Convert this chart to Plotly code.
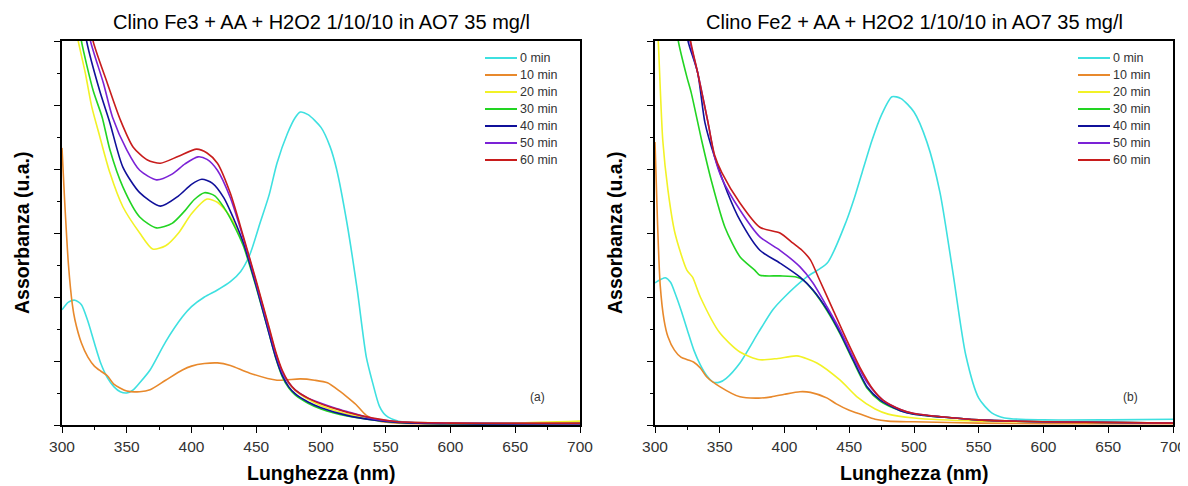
import plotly.graph_objects as go

# ---------------- data: panel (a) Clino Fe3 ----------------
a0_x = [300,305,310,315,320,325,330,335,340,345,350,355,360,368,380,393,400,410,420,430,438,445,453,460,466,474,480,484,490,500,507,512,520,528,535,540,545,550,560,580,620,660,700]
a0_y = [1.80,1.92,1.95,1.88,1.62,1.28,0.96,0.74,0.60,0.52,0.50,0.55,0.66,0.86,1.30,1.69,1.85,2.00,2.11,2.24,2.40,2.66,3.16,3.60,4.09,4.55,4.80,4.89,4.85,4.65,4.35,4.00,3.16,2.11,1.06,0.65,0.30,0.15,0.06,0.03,0.03,0.03,0.04]

a10_x = [300,302,305,308,310,315,320,325,330,335,340,350,360,368,380,393,400,410,420,430,445,466,484,495,505,515,520,527,535,545,560,600,650,700]
a10_y = [4.33,3.52,2.50,1.88,1.64,1.28,1.06,0.92,0.84,0.77,0.64,0.53,0.52,0.55,0.70,0.86,0.92,0.96,0.97,0.93,0.81,0.70,0.72,0.70,0.66,0.52,0.44,0.32,0.15,0.06,0.03,0.02,0.02,0.02]

a20_x = [310,312,318,323,329,337,347,360,370,380,390,400,412,420,430,440,450,460,465,470,475,480,490,500,510,520,540,560,600,650,700]
a20_y = [6.30,6.05,5.50,4.97,4.52,3.94,3.41,3.00,2.75,2.80,3.00,3.30,3.53,3.48,3.25,2.84,2.22,1.50,1.12,0.84,0.65,0.54,0.40,0.30,0.23,0.17,0.09,0.05,0.03,0.03,0.06]

a30_x = [313,315,324,331,337,347,360,373,385,395,402,410,418,425,432,440,450,460,465,470,475,480,490,500,520,540,560,600,700]
a30_y = [6.30,6.00,5.23,4.81,4.30,3.72,3.25,3.08,3.15,3.35,3.52,3.63,3.58,3.40,3.15,2.80,2.15,1.42,1.05,0.76,0.58,0.47,0.34,0.25,0.14,0.08,0.04,0.02,0.02]

a40_x = [317,319,329,337,347,360,376,390,400,408,416,425,432,440,450,460,465,470,475,480,490,500,520,540,560,600,700]
a40_y = [6.30,6.00,5.23,4.72,4.03,3.63,3.42,3.58,3.76,3.84,3.78,3.55,3.25,2.85,2.17,1.42,1.06,0.78,0.60,0.49,0.36,0.27,0.15,0.08,0.04,0.02,0.02]

a50_x = [320,322,332,339,350,360,373,385,395,405,412,420,430,440,450,460,465,470,475,480,490,500,510,520,540,560,600,700]
a50_y = [6.30,6.00,5.34,4.81,4.30,3.98,3.83,3.92,4.08,4.19,4.15,3.98,3.55,2.92,2.22,1.48,1.12,0.83,0.66,0.55,0.42,0.34,0.27,0.21,0.10,0.05,0.03,0.02]

a60_x = [322,324,335,345,355,366,376,390,404,412,420,430,440,450,460,465,470,475,480,490,500,510,520,540,560,600,700]
a60_y = [6.30,6.00,5.34,4.77,4.34,4.14,4.09,4.20,4.31,4.25,4.09,3.62,2.95,2.25,1.52,1.15,0.86,0.67,0.55,0.42,0.33,0.26,0.20,0.11,0.05,0.03,0.03]

# ---------------- data: panel (b) Clino Fe2 ----------------
b0_x = [300,305,308,312,316,320,325,330,335,340,345,350,355,365.6,380,391,400,417,433,448,454,460,467.6,475,483,490,500,510,520,530,540,550,560,570,600,650,700]
b0_y = [2.22,2.28,2.30,2.23,2.03,1.80,1.48,1.17,0.94,0.77,0.67,0.67,0.73,0.97,1.45,1.80,2.00,2.31,2.53,3.20,3.55,3.95,4.45,4.85,5.13,5.10,4.89,4.42,3.64,2.39,1.09,0.42,0.19,0.11,0.08,0.08,0.09]

b10_x = [300,302,304,307,310,315,320,325,330,335,340,350,365.6,380,390,400,412,420,433,440,450,460,470,480,500,550,600,700]
b10_y = [4.42,3.13,2.19,1.64,1.38,1.17,1.06,1.02,0.98,0.89,0.75,0.60,0.44,0.42,0.44,0.48,0.52,0.51,0.42,0.33,0.23,0.16,0.09,0.06,0.05,0.03,0.02,0.02]

b20_x = [301.5,302.5,306,310,315.4,324.6,329,335,350,365.6,381,395,409.6,425,443,456,470,480,500,550,600,700]
b20_y = [6.30,6.00,4.45,3.67,3.00,2.42,2.31,2.00,1.44,1.14,1.02,1.04,1.08,0.97,0.70,0.44,0.25,0.17,0.11,0.06,0.05,0.03]

b30_x = [316.5,318,324.6,328,336,344,354,365.6,377,381,396.5,409.6,414,422,433,443,453,464,474,490,500,550,600,700]
b30_y = [6.30,6.00,5.44,5.19,4.45,3.78,3.09,2.63,2.42,2.34,2.33,2.31,2.27,2.10,1.78,1.42,1.00,0.57,0.37,0.22,0.17,0.08,0.05,0.03]

b40_x = [324,325.5,333,338.6,346,356,365.6,381,396.5,412,422,433,443,453,464,474,490,500,550,600,700]
b40_y = [6.30,6.00,5.50,4.72,4.19,3.63,3.20,2.73,2.53,2.31,2.11,1.80,1.44,1.02,0.59,0.39,0.22,0.17,0.08,0.05,0.03]

b50_x = [325.5,327,333,341,346,351.7,365.6,381,396.5,412,422,433,443,453,464,476,490,500,550,600,700]
b50_y = [6.30,6.00,5.50,4.72,4.19,3.85,3.36,2.94,2.73,2.47,2.22,1.84,1.48,1.06,0.66,0.39,0.24,0.18,0.08,0.05,0.03]

b60_x = [326,327.5,333,341,346,351.7,365.6,381,396.5,406.6,413.5,420,427,437.5,448,458,468.6,476,490,500,550,600,700]
b60_y = [6.30,6.00,5.50,4.72,4.22,3.94,3.47,3.09,3.00,2.84,2.73,2.58,2.27,1.80,1.33,0.91,0.55,0.39,0.24,0.18,0.08,0.05,0.03]

series_names = ["0 min", "10 min", "20 min", "30 min", "40 min", "50 min", "60 min"]
series_colors = ["#3EE0E0", "#E8892C", "#F2F226", "#22D422", "#10109A", "#7B22D6", "#C81C1C"]

panel_a = [(a0_x, a0_y), (a10_x, a10_y), (a20_x, a20_y), (a30_x, a30_y), (a40_x, a40_y), (a50_x, a50_y), (a60_x, a60_y)]
panel_b = [(b0_x, b0_y), (b10_x, b10_y), (b20_x, b20_y), (b30_x, b30_y), (b40_x, b40_y), (b50_x, b50_y), (b60_x, b60_y)]

titles = ["Clino Fe3 + AA + H2O2 1/10/10 in AO7 35 mg/l", "Clino Fe2 + AA + H2O2 1/10/10 in AO7 35 mg/l"]
panel_tags = ["(a)", "(b)"]
x_title = "Lunghezza (nm)"
y_title = "Assorbanza (u.a.)"
x_ticks = [300, 350, 400, 450, 500, 550, 600, 650, 700]

W, H = 1188, 486
OFF = 8  # page body margin: the figure is drawn 8 px right and down
FONT = "Liberation Sans, Arial, sans-serif"

fig = go.Figure()

for i, (xs, ys) in enumerate(panel_a):
    fig.add_trace(go.Scatter(x=xs, y=ys, mode="lines", name=series_names[i], showlegend=False,
                             line=dict(color=series_colors[i], width=1.6, shape="spline", smoothing=0.7),
                             xaxis="x", yaxis="y"))
for i, (xs, ys) in enumerate(panel_b):
    fig.add_trace(go.Scatter(x=xs, y=ys, mode="lines", name=series_names[i], showlegend=False,
                             line=dict(color=series_colors[i], width=1.6, shape="spline", smoothing=0.7),
                             xaxis="x2", yaxis="y2"))

# panel extents in screen pixels
px_a = (62, 580)
px_b = (655, 1173)
py_top, py_bot = 41, 425

def fx(p):
    return (p - OFF) / W

def fy(p):
    return (H - (p - OFF)) / H

dom_a = [fx(px_a[0]), fx(px_a[1])]
dom_b = [fx(px_b[0]), fx(px_b[1])]
dom_y = [fy(py_bot), fy(py_top)]

xcommon = dict(range=[300, 700], tickvals=x_ticks, ticks="outside", ticklen=6, tickwidth=1.3,
               tickcolor="black", showline=True, linecolor="black", linewidth=1.8, mirror=True,
               showgrid=False, zeroline=False, automargin=False,
               tickfont=dict(family=FONT, size=15.5, color="#333333"),
               minor=dict(dtick=25, ticks="outside", ticklen=3, tickwidth=1.1, tickcolor="black", showgrid=False))
ycommon = dict(range=[0, 6], dtick=1, tick0=0, ticks="outside", ticklen=6, tickwidth=1.3,
               tickcolor="black", showline=True, linecolor="black", linewidth=1.8, mirror=True,
               showgrid=False, zeroline=False, showticklabels=False, automargin=False,
               minor=dict(dtick=0.5, ticks="outside", ticklen=3, tickwidth=1.1, tickcolor="black", showgrid=False))

fig.update_layout(
    width=W, height=H,
    margin=dict(l=0, r=0, t=0, b=0, autoexpand=False),
    paper_bgcolor="white", plot_bgcolor="white",
    xaxis=dict(domain=dom_a, anchor="y", **xcommon),
    yaxis=dict(domain=dom_y, anchor="x", **ycommon),
    xaxis2=dict(domain=dom_b, anchor="y2", **xcommon),
    yaxis2=dict(domain=dom_y, anchor="x2", **ycommon),
    showlegend=False,
)

for k, (pl, pr) in enumerate([px_a, px_b]):
    cx = (pl + pr) / 2
    # title
    fig.add_annotation(text=titles[k], xref="paper", yref="paper", x=fx(cx), y=fy(22),
                       showarrow=False, xanchor="center", yanchor="middle",
                       font=dict(family=FONT, size=20, color="black"))
    # x axis title
    fig.add_annotation(text="<b>" + x_title + "</b>", xref="paper", yref="paper", x=fx(cx), y=fy(473),
                       showarrow=False, xanchor="center", yanchor="middle",
                       font=dict(family=FONT, size=19.5, color="black"))
    # y axis title
    fig.add_annotation(text="<b>" + y_title + "</b>", xref="paper", yref="paper", x=fx(pl - 40), y=fy(233),
                       showarrow=False, xanchor="center", yanchor="middle", textangle=-90,
                       font=dict(family=FONT, size=19.5, color="black"))
    # panel tag
    fig.add_annotation(text=panel_tags[k], xref="paper", yref="paper", x=fx(pr - 43), y=fy(397),
                       showarrow=False, xanchor="center", yanchor="middle",
                       font=dict(family=FONT, size=12, color="#333333"))
    # legend (drawn inside the panel, top right)
    for i, name in enumerate(series_names):
        ly = fy(58 + 17 * i)
        fig.add_shape(type="line", xref="paper", yref="paper", x0=fx(pr - 95), x1=fx(pr - 63),
                      y0=ly, y1=ly, line=dict(color=series_colors[i], width=2))
        fig.add_annotation(text=name, xref="paper", yref="paper", x=fx(pr - 62), y=ly,
                           showarrow=False, xanchor="left", yanchor="middle",
                           font=dict(family=FONT, size=12.5, color="#333333"))

fig.write_html("out.html")
